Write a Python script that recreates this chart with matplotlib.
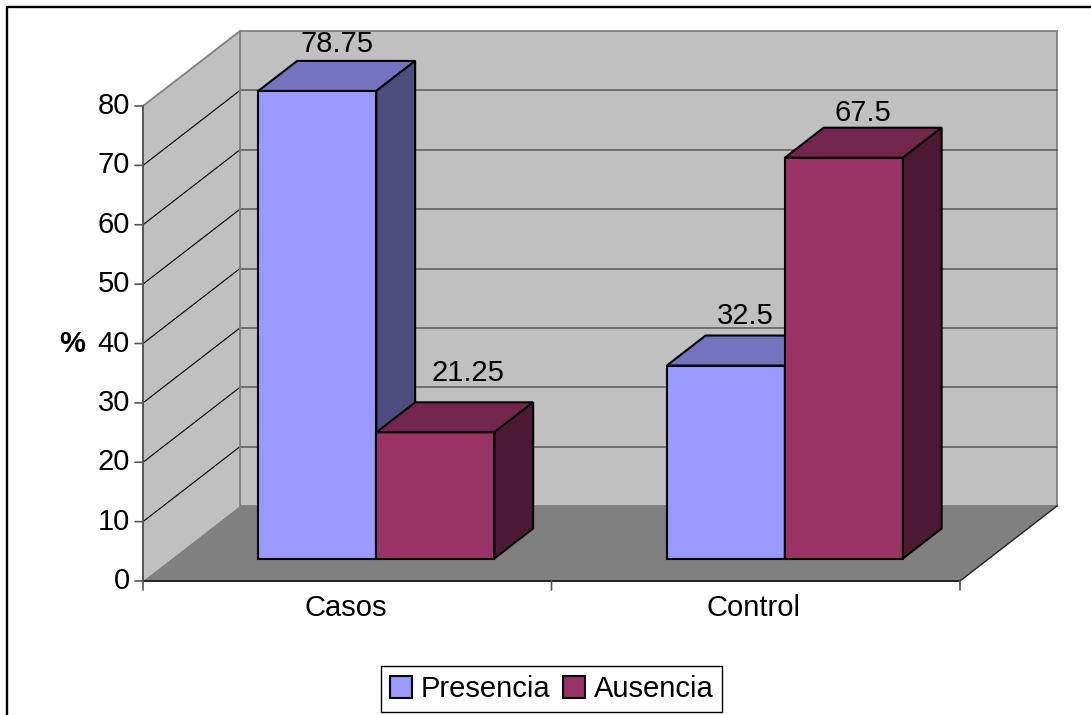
import matplotlib
matplotlib.use("Agg")
import matplotlib.pyplot as plt
from matplotlib.patches import Polygon, Patch
from matplotlib.lines import Line2D

# ---- data -------------------------------------------------------------
categories = ["Casos", "Control"]
series_names = ["Presencia", "Ausencia"]
presencia = [78.75, 32.5]
ausencia = [21.25, 67.5]
y_ticks = [0, 10, 20, 30, 40, 50, 60, 70, 80]
y_label = "%"

# ---- style ------------------------------------------------------------
front_colors = ["#9999FF", "#993366"]
top_colors = ["#7373BF", "#73264D"]
side_colors = ["#4D4D80", "#4D1A33"]
WALL = "#C0C0C0"
FLOOR = "#808080"
FONT = "Liberation Sans"
FS = 21

plt.rcParams["font.family"] = [FONT, "DejaVu Sans"]

W, H, DPI = 1091, 715, 100
fig = plt.figure(figsize=(W / DPI, H / DPI), dpi=DPI)

# geometry of the 3-D box (pixels on the canvas)
X0_PX, X1_PX = 143, 960          # front plane, left / right
Y0_PX = 581                      # front plane, value 0
PX_PER_UNIT = 475 / 80           # vertical scale
DEPTH_PX = (97, 75)              # full depth offset (right, up)
BAR_DEPTH = (0.3, 0.7)           # bars sit in the middle of the depth
BAR_W_PX = 118

cat_px = (X1_PX - X0_PX) / len(categories)
ax = fig.add_axes([0, 0, 1, 1])
ax.set_xlim(-X0_PX / cat_px, (W - X0_PX) / cat_px)
ax.set_ylim(-(H - Y0_PX) / PX_PER_UNIT, Y0_PX / PX_PER_UNIT)
ax.axis("off")

DX = DEPTH_PX[0] / cat_px
DY = DEPTH_PX[1] / PX_PER_UNIT
ncat = len(categories)
vmax = y_ticks[-1]


def P(x, v, d):
    """Project (category x, value, depth fraction) onto the axes."""
    return (x + d * DX, v + d * DY)


def poly(pts, **kw):
    ax.add_patch(Polygon(pts, closed=True, **kw))


def line(a, b, **kw):
    ax.add_line(Line2D([a[0], b[0]], [a[1], b[1]], **kw))


# walls and floor
poly([P(0, 0, 1), P(ncat, 0, 1), P(ncat, vmax, 1), P(0, vmax, 1)],
     facecolor=WALL, edgecolor="#808080", linewidth=1.3, zorder=1)
poly([P(0, 0, 0), P(0, 0, 1), P(0, vmax, 1), P(0, vmax, 0)],
     facecolor=WALL, edgecolor="none", zorder=1)
poly([P(0, 0, 0), P(0, 0, 1), P(ncat, 0, 1), P(ncat, 0, 0)],
     facecolor=FLOOR, edgecolor="none", zorder=1)

# gridlines on the back and side walls
for v in y_ticks[1:-1]:
    line(P(0, v, 1), P(ncat, v, 1), color="#5A5A5A", linewidth=1.1, zorder=2)
    line(P(0, v, 0), P(0, v, 1), color="black", linewidth=0.8, zorder=2)
line(P(0, vmax, 0), P(0, vmax, 1), color="#808080", linewidth=1.3, zorder=2)
line(P(0, 0, 1), P(0, vmax, 1), color="#808080", linewidth=1.3, zorder=2)

# axes edges
line(P(0, 0, 0), P(0, vmax, 0), color="#555555", linewidth=1.4, zorder=3)
line(P(0, 0, 0), P(ncat, 0, 0), color="#222222", linewidth=1.4, zorder=3)
line(P(ncat, 0, 0), P(ncat, 0, 1), color="#222222", linewidth=1.0, zorder=3)

# y ticks and labels
for v in y_ticks:
    ax.annotate("", xy=(0, v), xytext=(-8, 0), textcoords="offset pixels",
                arrowprops=dict(arrowstyle="-", color="#555555", lw=1.2,
                                shrinkA=0, shrinkB=0))
    ax.annotate(str(v), xy=(0, v), xytext=(-13, 0), textcoords="offset pixels",
                ha="right", va="center", fontsize=FS, color="black")
ax.annotate(y_label, xy=(0, 40), xytext=(-71, 0), textcoords="offset pixels",
            ha="center", va="center", fontsize=FS, fontweight="bold")

# x ticks and category labels
for i in range(ncat + 1):
    ax.annotate("", xy=(i, 0), xytext=(0, -9), textcoords="offset pixels",
                arrowprops=dict(arrowstyle="-", color="#555555", lw=1.2,
                                shrinkA=0, shrinkB=0))
for i, name in enumerate(categories):
    ax.annotate(name, xy=(i + 0.5, 0), xytext=(-2, -35),
                textcoords="offset pixels", ha="center", va="baseline",
                fontsize=FS)

# bars
series = [presencia, ausencia]
bw = BAR_W_PX / cat_px
d0, d1 = BAR_DEPTH
label_shift = [[(0, 9), (0, 12)], [(13, 21), (0, 7)]]   # pixels (x, up)
for i in range(ncat):
    for s, vals in enumerate(series):
        v = vals[i]
        x0 = i + 0.5 + (s - len(series) / 2) * bw
        x1 = x0 + bw
        ek = dict(edgecolor="black", linewidth=1.5, joinstyle="miter", zorder=5)
        poly([P(x0, 0, d0), P(x1, 0, d0), P(x1, v, d0), P(x0, v, d0)],
             facecolor=front_colors[s], **ek)
        poly([P(x0, v, d0), P(x1, v, d0), P(x1, v, d1), P(x0, v, d1)],
             facecolor=top_colors[s], **ek)
        poly([P(x1, 0, d0), P(x1, 0, d1), P(x1, v, d1), P(x1, v, d0)],
             facecolor=side_colors[s], **ek)
        xc = (x0 + x1) / 2
        sx, sy = label_shift[s][i]
        ax.annotate(f"{v:g}", xy=(P(xc, v, (d0 + d1) / 2)[0], P(xc, v, d1)[1]),
                    xytext=(sx, sy), textcoords="offset pixels",
                    ha="center", va="baseline", fontsize=FS, zorder=6)

# legend
handles = [Patch(facecolor=front_colors[k], edgecolor="black", linewidth=1.5,
                 label=series_names[k]) for k in range(len(series_names))]
leg = fig.legend(handles=handles, loc="center",
                 bbox_to_anchor=(551.5 / W, 1 - 689 / H), ncol=2,
                 fontsize=FS, frameon=True, fancybox=False, framealpha=1,
                 edgecolor="black", handlelength=0.75, handleheight=0.75,
                 handletextpad=0.3, columnspacing=0.45, borderpad=0.3,
                 borderaxespad=0)
leg.get_frame().set_linewidth(1.0)

# outer frame of the chart area
fig.add_artist(Line2D([7 / W, 7 / W, 1.0], [0.0, 1 - 7 / H, 1 - 7 / H],
                      transform=fig.transFigure, color="black", linewidth=1.7))

fig.savefig("out.png", dpi=DPI)
